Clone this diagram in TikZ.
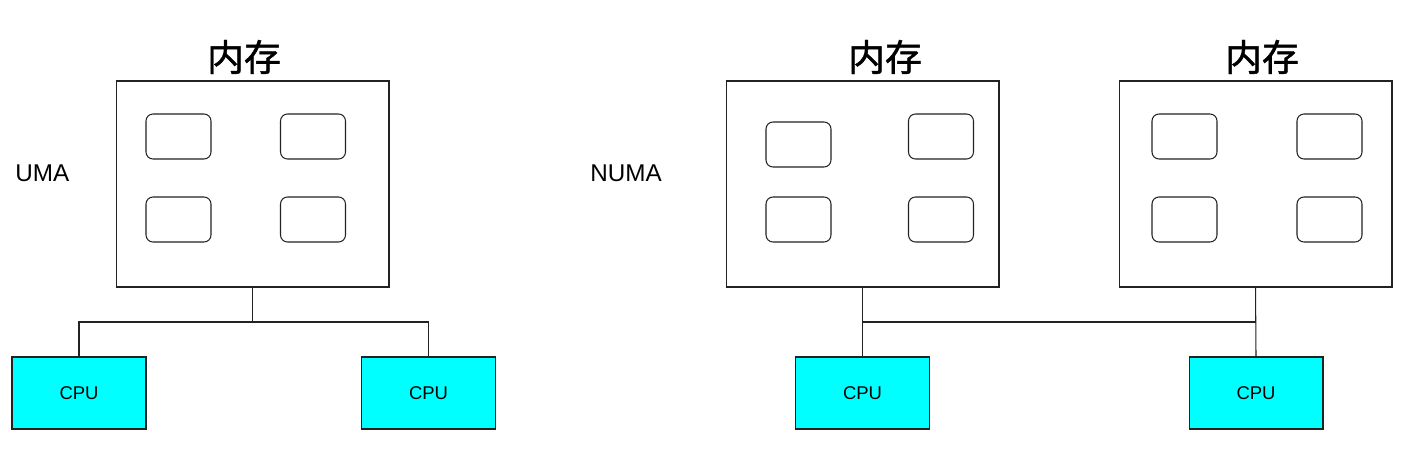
\documentclass[tikz,border=0pt]{standalone}
\usepackage{fontspec}
\setmainfont{Liberation Sans}
\newfontfamily\cjk[FakeBold=1.3]{Noto Sans CJK SC}
\definecolor{cpucyan}{HTML}{00FFFF}
\definecolor{edge}{HTML}{222222}

\tikzset{
  membox/.style={draw=edge, line width=0.6pt, minimum width=5.46cm, minimum height=4.12cm, inner sep=0pt},
  cell/.style={draw=edge, line width=0.6pt, rounded corners=0.14cm, minimum width=1.3cm, minimum height=0.9cm, inner sep=0pt},
  cpubox/.style={draw=edge, line width=0.6pt, fill=cpucyan, minimum width=2.68cm, minimum height=1.44cm, inner sep=0pt, font=\fontsize{10.5}{12}\selectfont},
  memtitle/.style={font=\cjk\fontsize{21}{24}\selectfont, inner sep=0pt},
  kind/.style={font=\fontsize{13.8}{16}\selectfont, inner sep=0pt, anchor=west},
  bus/.style={draw=edge, line width=0.6pt}
}

\begin{document}
\begin{tikzpicture}[x=0.02cm, y=-0.02cm]
  \useasboundingbox (0,0) rectangle (1426,466);

  % UMA
  \node[kind] (uma) at (15,173) {UMA};
  \node[membox] (m1) at (252.5,184) {};
  \node[memtitle] (t1) at (244,57) {内存};
  \foreach \x / \y / \n in {178.5/136.5/a, 313/136.5/b, 178.5/219.5/c, 313/219.5/d}{
    \node[cell] (m1\n) at (\x,\y) {};
  }
  \node[cpubox] (c1) at (79,393) {CPU};
  \node[cpubox] (c2) at (428.5,393) {CPU};
  \coordinate (j1) at (252.5,322);
  \draw[bus] (m1.south) -- (j1);
  \draw[bus] (c1.north) |- (j1) -| (c2.north);

  % NUMA
  \node[kind] (numa) at (590,173) {NUMA};
  \node[membox] (m2) at (862.5,184) {};
  \node[membox] (m3) at (1255.5,184) {};
  \node[memtitle] (t2) at (885,57) {内存};
  \node[memtitle] (t3) at (1262,57) {内存};
  \foreach \x / \y / \n in {798.5/144.5/a, 941/136.5/b, 798.5/219.5/c, 941/219.5/d}{
    \node[cell] (m2\n) at (\x,\y) {};
  }
  \foreach \x / \y / \n in {1184.5/136.5/a, 1329.5/136.5/b, 1184.5/219.5/c, 1329.5/219.5/d}{
    \node[cell] (m3\n) at (\x,\y) {};
  }
  \node[cpubox] (c3) at (862.5,393) {CPU};
  \node[cpubox] (c4) at (1256,393) {CPU};
  \coordinate (j2) at (862.5,322);
  \coordinate (j3) at (1256,322);
  \draw[bus] (m2.south) -- (c3.north);
  \draw[bus] (m3.south) -- (c4.north);
  \draw[bus] (j2) -- (j3);
\end{tikzpicture}
\end{document}
